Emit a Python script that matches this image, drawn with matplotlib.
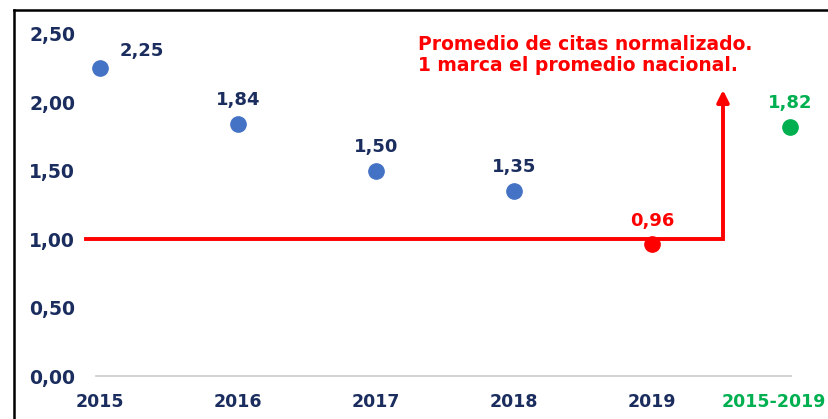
import matplotlib
matplotlib.use("Agg")
import matplotlib.pyplot as plt
import matplotlib.transforms as mtransforms
from matplotlib.lines import Line2D

categories = ["2015", "2016", "2017", "2018", "2019", "2015-2019"]
values = [2.25, 1.84, 1.50, 1.35, 0.96, 1.82]
value_labels = ["2,25", "1,84", "1,50", "1,35", "0,96", "1,82"]
yticks = [0.0, 0.5, 1.0, 1.5, 2.0, 2.5]
ytick_labels = ["0,00", "0,50", "1,00", "1,50", "2,00", "2,50"]
reference_value = 1.0
note = "Promedio de citas normalizado.\n1 marca el promedio nacional."

NAVY = "#1A2D5E"
BLUE = "#4472C4"
RED = "#FF0000"
GREEN = "#00B050"
point_colors = [BLUE, BLUE, BLUE, BLUE, RED, GREEN]
label_colors = [NAVY, NAVY, NAVY, NAVY, RED, GREEN]
xlabel_colors = [NAVY, NAVY, NAVY, NAVY, NAVY, GREEN]

W, H = 829, 419
fig = plt.figure(figsize=(W / 100, H / 100), dpi=100)
plt.rcParams['font.family'] = ['DejaVu Sans']

# axes: px left 82, right 829, top 11, bottom 376
left, right, top, bottom = 82, 829, 11, 376
ax = fig.add_axes([left / W, 1 - bottom / H, (right - left) / W, (bottom - top) / H])
xs = list(range(len(categories)))
px_per_cat = 138.0
ax.set_xlim((left - 100) / px_per_cat, (right - 100) / px_per_cat)
ax.set_ylim(0, (bottom - top) / 137.0)
for s in ax.spines.values():
    s.set_visible(False)

ax.set_yticks(yticks)
ax.set_yticklabels(ytick_labels, fontsize=13.5, fontweight='bold', color=NAVY)
ax.set_xticks(xs)
ax.set_xticklabels(categories, fontsize=12.5, fontweight='bold')
xlbls = ax.get_xticklabels()
for lbl, c in zip(xlbls, xlabel_colors):
    lbl.set_color(c)
ax.tick_params(axis='y', length=0, pad=5)
ax.tick_params(axis='x', length=0, pad=12)
# keep the last (wide) label inside the figure
xlbls[-1].set_horizontalalignment('right')
xlbls[-1].set_transform(xlbls[-1].get_transform() +
                        mtransforms.ScaledTranslation(36 / 100, 0, fig.dpi_scale_trans))

# baseline
ax.plot([-0.03, 5.01], [0, 0], color="#D0D0D0", lw=1.3, clip_on=False, zorder=1)

# reference line with arrow
x_start = (86 - 100) / px_per_cat
x_corner = (723 - 100) / px_per_cat
y_tip = (376 - 90) / 137.0
ax.plot([x_start, x_corner, x_corner], [reference_value, reference_value, y_tip - 0.07],
        color=RED, lw=2.8, solid_joinstyle='miter', zorder=3, clip_on=False)
ax.annotate("", xy=(x_corner, y_tip), xytext=(x_corner, y_tip - 0.1),
            arrowprops=dict(arrowstyle="-|>,head_length=0.7,head_width=0.35",
                            color=RED, lw=2.8, shrinkA=0, shrinkB=0), zorder=4)

# points
for x, v, c in zip(xs, values, point_colors):
    ax.plot([x], [v], 'o', ms=11, color=c, mec=c, zorder=2, clip_on=False)

# labels
for i, (x, v, t, c) in enumerate(zip(xs, values, value_labels, label_colors)):
    if i == 0:
        ax.annotate(t, (x, v), xytext=(30, 12), textcoords='offset points',
                    ha='center', va='center', fontsize=13, fontweight='bold', color=c)
    else:
        ax.annotate(t, (x, v), xytext=(0, 17), textcoords='offset points',
                    ha='center', va='center', fontsize=13, fontweight='bold', color=c)

ax.text((418 - 100) / px_per_cat, (376 - 35) / 137.0, note, ha='left', va='top',
        fontsize=13.5, fontweight='bold', color=RED, linespacing=1.1)

# frame lines
fig.add_artist(Line2D([14.5 / W, 14.5 / W], [0, 1 - 10 / H], color='black', lw=1.8))
fig.add_artist(Line2D([14 / W, 1], [1 - 10.5 / H, 1 - 10.5 / H], color='black', lw=1.8))

fig.savefig("out.png", dpi=100)
